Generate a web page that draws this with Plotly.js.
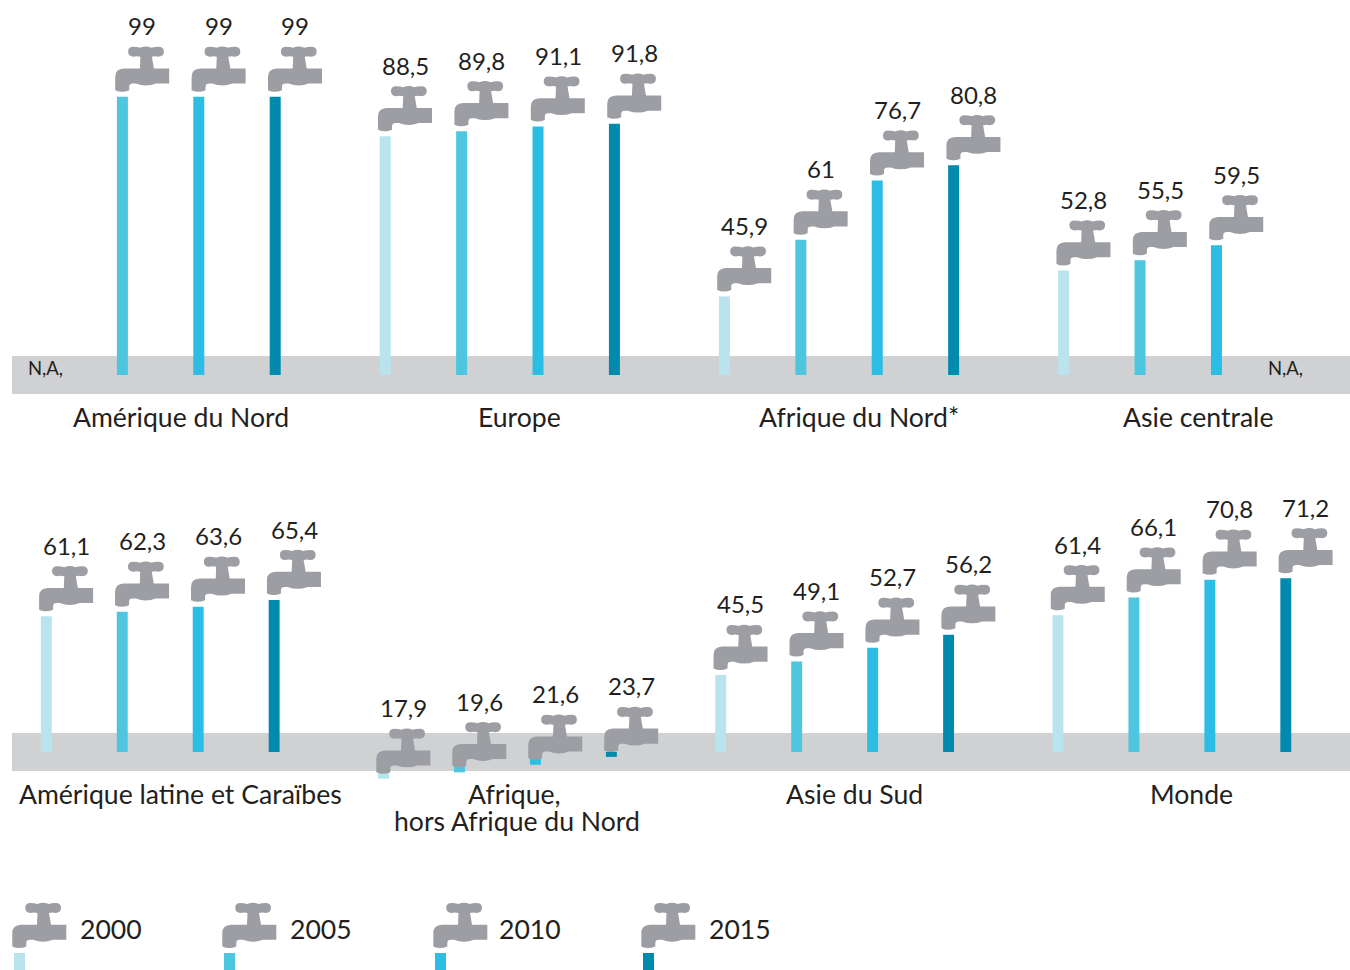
<!DOCTYPE html>
<html>
<head>
<meta charset="utf-8">
<script src="https://cdn.plot.ly/plotly-3.0.1.min.js"></script>
<style>html,body{margin:0;padding:0;background:#fff;overflow:hidden}#chart{width:1350px;height:970px}</style>
</head>
<body>
<div id="chart"></div>
<script>
// Data
const years = ['2000', '2005', '2010', '2015'];
const topRegions = ['Amérique du Nord', 'Europe', 'Afrique du Nord*', 'Asie centrale'];
const bottomRegions = ['Amérique latine et Caraïbes', 'Afrique,<br>hors Afrique du Nord', 'Asie du Sud', 'Monde'];
const top2000 = [null, 88.5, 45.9, 52.8];
const top2005 = [99, 89.8, 61, 55.5];
const top2010 = [99, 91.1, 76.7, 59.5];
const top2015 = [99, 91.8, 80.8, null];
const bottom2000 = [61.1, 17.9, 45.5, 61.4];
const bottom2005 = [62.3, 19.6, 49.1, 66.1];
const bottom2010 = [63.6, 21.6, 52.7, 70.8];
const bottom2015 = [65.4, 23.7, 56.2, 71.2];
const naLabel = 'N,A,';

// Styles and geometry
const colors = ['#B9E4EE', '#4EC6DF', '#2BBDE3', '#008AAE'];
const grey = '#9D9EA3', band = '#D0D1D3', ink = '#231F20';
const W = 1350, H = 970;
const baseline = 25, pxPerUnit = 3.76, period = 4.44, barW = 0.144;
const panels = [
  {xa: 'x', ya: 'y', x0: 46, step: 76.4, y0: 375, bandTop: 356, bandBot: 394, labelY: 417,
   regions: topRegions, series: [top2000, top2005, top2010, top2015]},
  {xa: 'x2', ya: 'y2', x0: 46.3, step: 75.95, y0: 752, bandTop: 733, bandBot: 771, labelY: 794,
   regions: bottomRegions, series: [bottom2000, bottom2005, bottom2010, bottom2015]}
];
const legendX = [19.5, 229.5, 440.5, 648.5];
const legendTextX = [78, 288, 496.5, 706.5];

// Faucet outline, page-style coordinates relative to the top centre of the bar
const ax = 122.5, ay = 96;
const pts = (a, b) => (a - ax).toFixed(1) + ',' + (ay - b).toFixed(1);
const faucetPath =
  'M' + pts(115.3, 89.5) + ' Q' + pts(122, 92.5) + ' ' + pts(129.3, 89.5) +
  ' L' + pts(129.3, 86) + ' Q' + pts(129.3, 82.8) + ' ' + pts(133, 82.8) +
  ' L' + pts(136, 82.8) + ' Q' + pts(146, 86.5) + ' ' + pts(156, 82.8) +
  ' L' + pts(169.3, 82.8) + ' L' + pts(169.3, 67.7) + ' L' + pts(154, 67.7) +
  ' L' + pts(152, 56) + ' Q' + pts(155, 55) + ' ' + pts(158.5, 56) +
  ' Q' + pts(164, 55.5) + ' ' + pts(164, 50.8) + ' Q' + pts(164, 46) + ' ' + pts(158.5, 46) +
  ' Q' + pts(154.5, 46) + ' ' + pts(151.5, 47) + ' Q' + pts(146, 44.5) + ' ' + pts(140.5, 47) +
  ' Q' + pts(137, 46) + ' ' + pts(133.5, 46) + ' Q' + pts(128.2, 46) + ' ' + pts(128.2, 50.8) +
  ' Q' + pts(128.2, 55.5) + ' ' + pts(133.5, 56) + ' Q' + pts(137, 55) + ' ' + pts(140.5, 56) +
  ' L' + pts(140, 67.7) + ' L' + pts(124, 67.7) + ' Q' + pts(115.3, 68) + ' ' + pts(115.3, 76) + ' Z';

const traces = [], shapes = [], annotations = [];
const font = 'Lato, "Open Sans", sans-serif';
const label = (o, size) => Object.assign({showarrow: false, font: {family: font, size: size, color: ink}}, o);
const faucet = (o) => Object.assign({type: 'path', path: faucetPath, xsizemode: 'pixel', ysizemode: 'pixel',
  fillcolor: grey, line: {width: 0}, layer: 'above'}, o);

panels.forEach((p) => {
  shapes.push({type: 'rect', xref: 'paper', yref: 'paper', x0: 12 / W, x1: 1, y0: 1 - p.bandBot / H, y1: 1 - p.bandTop / H,
    fillcolor: band, line: {width: 0}, layer: 'below'});
  p.series.forEach((vals, s) => {
    const xs = [], ys = [];
    vals.forEach((v, g) => {
      const x = g * period + s;
      if (v === null) {
        annotations.push(label({xref: p.xa, yref: 'paper', x: x, y: 1 - 368 / H, xshift: g === 0 ? -0.5 : -7,
          xanchor: 'center', yanchor: 'middle', text: naLabel}, 18.5));
        return;
      }
      xs.push(x); ys.push(v - baseline);
      shapes.push(faucet({xref: p.xa, yref: p.ya, xanchor: x, yanchor: v}));
      annotations.push(label({xref: p.xa, yref: p.ya, x: x, y: v, xshift: 20, yshift: 71,
        xanchor: 'center', yanchor: 'middle', text: String(v).replace('.', ',')}, 24));
    });
    traces.push({type: 'bar', x: xs, y: ys, base: baseline, width: barW, xaxis: p.xa, yaxis: p.ya,
      marker: {color: colors[s], line: {width: 0}}, hoverinfo: 'skip', showlegend: false, name: years[s]});
  });
  p.regions.forEach((r, g) => {
    const lines = r.split('<br>');
    lines.forEach((line, i) => {
      annotations.push(label({xref: p.xa, yref: 'paper', x: g * period + 1.5, y: 1 - (p.labelY + i * 27) / H,
        xshift: lines.length > 1 && i === 0 ? 17 : 20,
        xanchor: 'center', yanchor: 'middle', text: line}, 26.6));
    });
  });
});

years.forEach((yr, i) => {
  shapes.push(faucet({xref: 'paper', yref: 'paper', xanchor: legendX[i] / W, yanchor: 1 - 953 / H}));
  shapes.push({type: 'rect', xref: 'paper', yref: 'paper', xsizemode: 'pixel', ysizemode: 'pixel',
    xanchor: legendX[i] / W, yanchor: 1 - 953 / H, x0: -5.5, x1: 5.5, y0: 0, y1: -17,
    fillcolor: colors[i], line: {width: 0}});
  annotations.push(label({xref: 'paper', yref: 'paper', x: legendTextX[i] / W, y: 1 - 929 / H,
    xanchor: 'left', yanchor: 'middle', text: yr}, 26.6));
});

const hidden = (range, extra) => Object.assign({visible: false, range: range, fixedrange: true, domain: [0, 1]}, extra);
const xRange = (p) => [-p.x0 / p.step, (W - p.x0) / p.step];
const yRange = (p) => [baseline - (H - p.y0) / pxPerUnit, baseline + p.y0 / pxPerUnit];
const layout = {
  width: W, height: H, margin: {l: 0, r: 0, t: 0, b: 0},
  paper_bgcolor: '#fff', plot_bgcolor: 'rgba(0,0,0,0)', barmode: 'overlay', showlegend: false,
  xaxis: hidden(xRange(panels[0]), {anchor: 'y'}),
  yaxis: hidden(yRange(panels[0]), {anchor: 'x'}),
  xaxis2: hidden(xRange(panels[1]), {anchor: 'y2', overlaying: 'x'}),
  yaxis2: hidden(yRange(panels[1]), {anchor: 'x2', overlaying: 'y'}),
  shapes: shapes, annotations: annotations
};
Plotly.newPlot('chart', traces, layout, {displayModeBar: false, staticPlot: true});
</script>
</body>
</html>
